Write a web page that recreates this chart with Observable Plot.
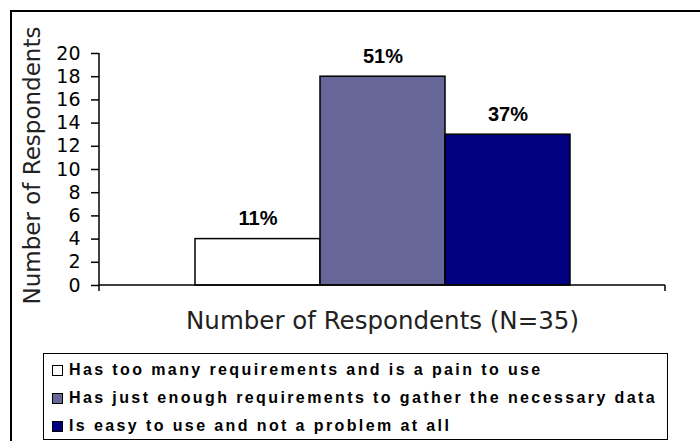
<!DOCTYPE html>
<html>
<head>
<meta charset="utf-8">
<script src="https://cdn.jsdelivr.net/npm/d3@7"></script>
<script src="https://cdn.jsdelivr.net/npm/@observablehq/plot@0.6"></script>
<style>
  html, body { margin: 0; padding: 0; background: #fff; }
  #wrap { position: relative; width: 700px; height: 441px; overflow: hidden; background: #fff; }
  #border { position: absolute; left: 10px; top: 10px; width: 760px; height: 500px; border: 2px solid #000; box-sizing: border-box; pointer-events: none; }
  #chart { position: absolute; left: 0; top: 0; }
  #legend { position: absolute; left: 43px; top: 353px; width: 625px; height: 87px; border: 1.5px solid #000; box-sizing: border-box; background: #fff; padding-top: 2px;
    font-family: "Liberation Sans", Arial, sans-serif; font-weight: bold; font-size: 16px; color: #000; }
  .row { display: flex; align-items: center; height: 28px; padding-left: 8px; white-space: nowrap; }
  .sw { width: 9px; height: 9px; border: 1.2px solid #000; margin-right: 6px; flex: none; }
</style>
</head>
<body>
<div id="wrap">
  <div id="chart"></div>
  <div id="legend"></div>
  <div id="border"></div>
</div>
<script>
const categories = [
  "Has too many requirements and is a pain to use",
  "Has just enough requirements to gather the necessary data",
  "Is easy to use and not a problem at all"
];
const counts = [4, 18, 13];
const percentLabels = ["11%", "51%", "37%"];
const colors = ["#FFFFFF", "#666699", "#000080"];
const yTicks = [0, 2, 4, 6, 8, 10, 12, 14, 16, 18, 20];
const xTitle = "Number of Respondents (N=35)";
const yTitle = "Number of Respondents";

const data = categories.map((c, i) => ({name: c, value: counts[i], label: percentLabels[i]}));

const axisLines = (index, scales, values, dimensions) => {
  const {width, marginLeft, marginRight} = dimensions;
  const x0 = marginLeft, x1 = width - marginRight;
  const yTop = scales.y(d3.max(yTicks)), yBase = scales.y(0);
  const g = d3.create("svg:g").attr("stroke", "#000").attr("stroke-width", 1.5).attr("fill", "none");
  g.append("line").attr("x1", x0).attr("x2", x0).attr("y1", yTop).attr("y2", yBase + 6);
  g.append("line").attr("x1", x0).attr("x2", x1).attr("y1", yBase).attr("y2", yBase);
  g.append("line").attr("x1", x1).attr("x2", x1).attr("y1", yBase).attr("y2", yBase + 6);
  return g.node();
};

const plot = Plot.plot({
  width: 700,
  height: 441,
  marginLeft: 99,
  marginRight: 35,
  marginTop: 53,
  marginBottom: 156,
  style: {background: "transparent", fontFamily: "DejaVu Sans", color: "#000"},
  x: {type: "band", domain: categories, paddingInner: 0, paddingOuter: 0.75, axis: null},
  y: {domain: [0, 20], ticks: yTicks, axis: null},
  color: {domain: categories, range: colors},
  marks: [
    Plot.axisY({ticks: yTicks, tickSize: 8, tickPadding: 11, fontSize: 19, tickFormat: d3.format("d"), label: null, stroke: "#000", strokeWidth: 1.5, strokeOpacity: 1, fill: "#000"}),
    Plot.barY(data, {x: "name", y: "value", fill: "name", stroke: "#000", strokeWidth: 1.5}),
    Plot.text(data, {x: "name", y: "value", text: "label", lineAnchor: "bottom", dy: -14, fontSize: 20, fontWeight: "bold", fontFamily: "Liberation Sans, Arial, sans-serif", fill: "#000"}),
    Plot.text([xTitle], {frameAnchor: "bottom", textAnchor: "middle", lineAnchor: "bottom", dy: 43, fontSize: 24.5, fontFamily: "DejaVu Sans", fill: "#222"}),
    Plot.text([yTitle], {frameAnchor: "left", textAnchor: "middle", rotate: -90, lineAnchor: "bottom", dx: -60, dy: -4, fontSize: 23, fontFamily: "DejaVu Sans", fill: "#222"}),
    axisLines
  ]
});
document.getElementById("chart").appendChild(plot);

// legend
const legend = d3.select("#legend");
const ctx = document.createElement("canvas").getContext("2d");
ctx.font = "bold 16px 'Liberation Sans'";
const natural = ctx.measureText(categories[1]).width;
const spacing = (588 - natural) / categories[1].length;
categories.forEach((c, i) => {
  const row = legend.append("div").attr("class", "row");
  row.append("div").attr("class", "sw").style("background", colors[i]);
  row.append("span").style("letter-spacing", spacing + "px").text(c);
});
</script>
</body>
</html>
